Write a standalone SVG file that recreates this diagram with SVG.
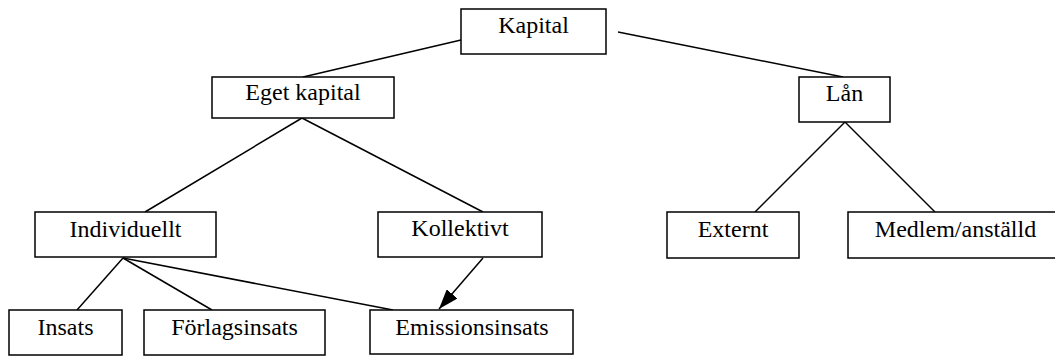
<svg xmlns="http://www.w3.org/2000/svg" width="1055" height="356" viewBox="0 0 1055 356">
<style>
rect{fill:#fff;stroke:#000;stroke-width:1.5}
text{font-family:"Liberation Serif","Times New Roman",serif;font-size:24px;text-anchor:middle;fill:#000}
.c line{stroke:#000;stroke-width:1.5}
</style>
<defs>
<marker id="ah" markerUnits="userSpaceOnUse" markerWidth="20" markerHeight="14" refX="20" refY="7" orient="auto">
<path d="M0,0 L20,7 L0,14 Z" fill="#000"/>
</marker>
</defs>
<g class="c" id="connectors">
<line x1="461" y1="40" x2="303" y2="77"/>
<line x1="618" y1="32" x2="843" y2="77"/>
<line x1="302" y1="118" x2="145" y2="212"/>
<line x1="302" y1="118" x2="483" y2="212"/>
<line x1="845" y1="122" x2="755" y2="212"/>
<line x1="845" y1="122" x2="935" y2="212"/>
<line x1="123" y1="258" x2="77" y2="310"/>
<line x1="123" y1="258" x2="212" y2="310"/>
<line x1="123" y1="258" x2="393" y2="310"/>
<line x1="483" y1="258" x2="439" y2="309" marker-end="url(#ah)"/>
</g>
<g id="kapital"><rect x="461" y="9" width="145" height="45"/><text x="533.5" y="33">Kapital</text></g>
<g id="eget"><rect x="212" y="77" width="182" height="41"/><text x="303" y="100">Eget kapital</text></g>
<g id="lan"><rect x="799" y="77" width="91" height="45"/><text x="844.5" y="101">Lån</text></g>
<g id="individuellt"><rect x="35" y="212" width="181" height="45"/><text x="125.5" y="237">Individuellt</text></g>
<g id="kollektivt"><rect x="378" y="212" width="164" height="45"/><text x="460" y="236">Kollektivt</text></g>
<g id="externt"><rect x="667" y="212" width="132" height="46"/><text x="733" y="237">Externt</text></g>
<g id="medlem"><rect x="848" y="212" width="215" height="46"/><text x="955.5" y="237">Medlem/anställd</text></g>
<g id="insats"><rect x="9" y="310" width="113" height="45"/><text x="65.5" y="335">Insats</text></g>
<g id="forlagsinsats"><rect x="144" y="310" width="181" height="45"/><text x="234.5" y="335">Förlagsinsats</text></g>
<g id="emissionsinsats"><rect x="370" y="310" width="203" height="44"/><text x="472" y="335">Emissionsinsats</text></g>
</svg>
